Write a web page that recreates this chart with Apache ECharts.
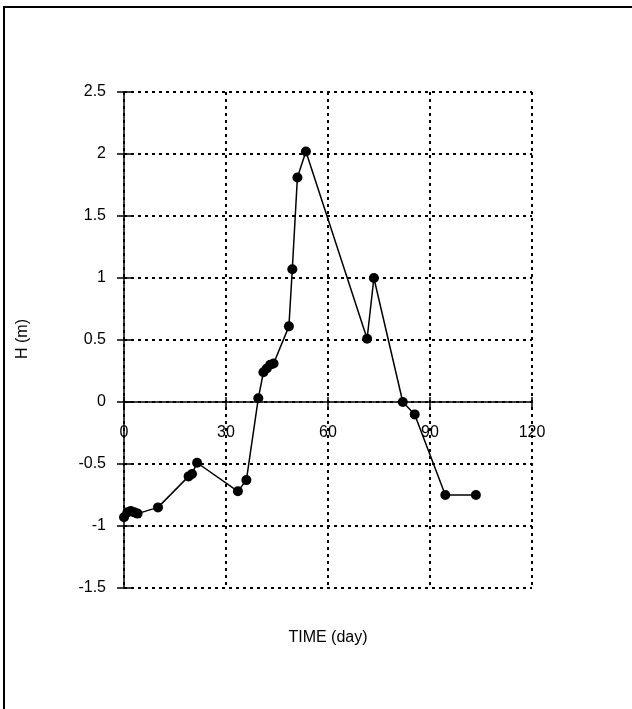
<!DOCTYPE html>
<html>
<head>
<meta charset="utf-8">
<script src="https://cdn.jsdelivr.net/npm/echarts@6/dist/echarts.min.js"></script>
<style>
html,body{margin:0;padding:0;background:#fff;}
#chart{width:632px;height:709px;}
</style>
</head>
<body>
<div id="chart"></div>
<script>
const days = [0, 1, 2, 3, 4, 10, 19, 20, 21.5, 33.5, 36, 39.5, 41, 42, 43, 44, 48.5, 49.5, 51, 53.5, 71.5, 73.5, 82, 85.5, 94.5, 103.5];
const heights = [-0.93, -0.89, -0.88, -0.89, -0.9, -0.85, -0.6, -0.58, -0.49, -0.72, -0.63, 0.03, 0.24, 0.27, 0.3, 0.31, 0.61, 1.07, 1.81, 2.02, 0.51, 1.0, 0.0, -0.1, -0.75, -0.75];
const xTickLabels = ['0', '30', '60', '90', '120'];
const yTickLabels = ['-1.5', '-1', '-0.5', '0', '0.5', '1', '1.5', '2', '2.5'];
const xTitle = 'TIME (day)';
const yTitle = 'H (m)';

const FONT = 'Liberation Sans, Arial, sans-serif';
const xMin = 0, xMax = 120, xStep = 30;
const yMin = -1.5, yMax = 2.5, yStep = 0.5;

const gridTop = 92, gridBottom = 121, chartH = 709;
const plotH = chartH - gridTop - gridBottom;
// shift the x axis up so that it sits on H = 0
const zeroOffset = -plotH * (0 - yMin) / (yMax - yMin);

const chart = echarts.init(document.getElementById('chart'), null, {renderer: 'canvas'});
const dotted = {color: '#000', width: 2, type: [3, 4]};
const xFmt = v => xTickLabels[Math.round((v - xMin) / xStep)] ?? '';
const yFmt = v => yTickLabels[Math.round((v - yMin) / yStep)] ?? '';

chart.setOption({
  animation: false,
  backgroundColor: '#fff',
  grid: {left: 124, top: gridTop, right: 100, bottom: gridBottom, containLabel: false},
  xAxis: [
    {
      type: 'value', min: xMin, max: xMax, interval: xStep, position: 'bottom', offset: zeroOffset,
      axisLine: {show: true, onZero: false, lineStyle: {color: '#000', width: 1.5}},
      axisTick: {show: true, inside: false, length: 5, lineStyle: {color: '#000', width: 1.5}},
      axisLabel: {show: true, formatter: xFmt, color: '#000', fontSize: 16, fontFamily: FONT, margin: 23},
      splitLine: {show: true, lineStyle: dotted}
    },
    {
      type: 'value', min: xMin, max: xMax, interval: xStep, position: 'bottom', offset: zeroOffset,
      axisLine: {show: false, onZero: false},
      axisTick: {show: true, inside: true, length: 5, lineStyle: {color: '#000', width: 1.5}},
      axisLabel: {show: false},
      splitLine: {show: false}
    }
  ],
  yAxis: [
    {
      type: 'value', min: yMin, max: yMax, interval: yStep, position: 'left',
      axisLine: {show: true, lineStyle: {color: '#000', width: 1.5}},
      axisTick: {show: true, inside: false, length: 7, lineStyle: {color: '#000', width: 1.5}},
      axisLabel: {show: true, formatter: yFmt, color: '#000', fontSize: 16, fontFamily: FONT, margin: 18},
      splitLine: {show: true, lineStyle: dotted}
    },
    {
      type: 'value', min: yMin, max: yMax, interval: yStep, position: 'left', offset: 0,
      axisLine: {show: false},
      axisTick: {show: true, inside: true, length: 7, lineStyle: {color: '#000', width: 1.5}},
      axisLabel: {show: false},
      splitLine: {show: false}
    }
  ],
  graphic: [
    {type: 'rect', shape: {x: 4, y: 7, width: 700, height: 800}, style: {fill: 'none', stroke: '#000', lineWidth: 2}, silent: true},
    {type: 'text', x: 328, y: 638, style: {text: xTitle, fill: '#000', font: '16px ' + FONT, textAlign: 'center', textVerticalAlign: 'middle'}},
    {type: 'text', x: 23, y: 339, rotation: Math.PI / 2, style: {text: yTitle, fill: '#000', font: '16px ' + FONT, textAlign: 'center', textVerticalAlign: 'middle'}}
  ],
  series: [{
    type: 'line',
    xAxisIndex: 0, yAxisIndex: 0,
    data: days.map((d, i) => [d, heights[i]]),
    symbol: 'circle', symbolSize: 10,
    showAllSymbol: true,
    itemStyle: {color: '#000'},
    lineStyle: {color: '#000', width: 1.5},
    z: 5
  }]
});
</script>
</body>
</html>
